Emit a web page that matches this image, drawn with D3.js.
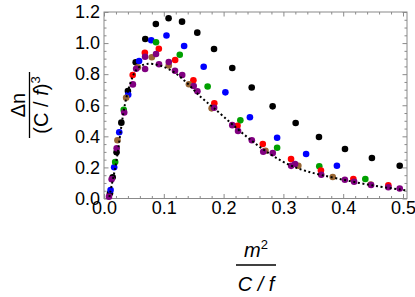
<!DOCTYPE html>
<html>
<head>
<meta charset="utf-8">
<script src="https://cdn.jsdelivr.net/npm/d3@7"></script>
<style>
  body { margin: 0; background: #fff; }
  svg { display: block; font-family: "Liberation Sans", Arial, sans-serif; }
</style>
</head>
<body>
<svg width="415" height="297"></svg>
<script>
// values, [x, y]
const blackPts = [
  [0.010, 0.033], [0.0145, 0.136], [0.021, 0.298], [0.029, 0.488], [0.040, 0.692],
  [0.053, 0.876], [0.069, 1.026], [0.0867, 1.123], [0.108, 1.16], [0.1305, 1.138],
  [0.156, 1.067], [0.184, 0.962], [0.2145, 0.840], [0.247, 0.714], [0.282, 0.593],
  [0.3205, 0.486], [0.3595, 0.396], [0.403, 0.3185], [0.448, 0.261], [0.4945, 0.211]
];
const bluePts = [
  [0.011, 0.055], [0.017, 0.201], [0.0255, 0.426], [0.0405, 0.667], [0.0587, 0.885],
  [0.079, 1.018], [0.1045, 1.049], [0.134, 0.981], [0.1667, 0.848], [0.203, 0.683],
  [0.244, 0.523], [0.2895, 0.391], [0.338, 0.286], [0.3895, 0.211]
];
const greenPts = [
  [0.0187, 0.235], [0.033, 0.570], [0.087, 1.005], [0.1267, 0.925], [0.1733, 0.721],
  [0.228, 0.503], [0.2895, 0.327], [0.36, 0.207], [0.437, 0.125]
];
const redPts = [
  [0.048, 0.795], [0.0683, 0.938], [0.0917, 0.964], [0.119, 0.891], [0.1495, 0.761],
  [0.1845, 0.613], [0.2233, 0.468], [0.2655, 0.351], [0.3128, 0.254], [0.3628, 0.180],
  [0.417, 0.125], [0.4755, 0.085]
];
const brownPts = [
  [0.0225, 0.375], [0.037, 0.648], [0.0567, 0.844], [0.080, 0.909], [0.1083, 0.856],
  [0.142, 0.735], [0.18, 0.580], [0.27, 0.307], [0.325, 0.211], [0.3825, 0.138],
  [0.446, 0.090]
];
const purplePts = [
  [0.0083, 0.012], [0.0128, 0.124], [0.0212, 0.323], [0.0338, 0.553], [0.0483, 0.734],
  [0.0538, 0.835], [0.0687, 0.833], [0.0687, 0.912], [0.087, 0.930], [0.092, 0.864],
  [0.1083, 0.878], [0.1187, 0.822], [0.1308, 0.795], [0.15, 0.724], [0.1562, 0.690],
  [0.1842, 0.584], [0.2145, 0.472], [0.2242, 0.434], [0.2472, 0.375], [0.2663, 0.301],
  [0.2822, 0.292], [0.313, 0.210], [0.3195, 0.222], [0.3633, 0.153], [0.4028, 0.121],
  [0.4183, 0.108], [0.4467, 0.087], [0.4755, 0.072], [0.4945, 0.064]
];
// dotted reference curve
const curvePts = [
  [0.009, 0.01], [0.0117, 0.066], [0.0183, 0.183], [0.0238, 0.312], [0.0295, 0.484],
  [0.035, 0.613], [0.0405, 0.698], [0.0488, 0.806], [0.06, 0.859], [0.08, 0.874],
  [0.11, 0.838], [0.138, 0.752], [0.16, 0.655], [0.182, 0.59], [0.2155, 0.473],
  [0.2545, 0.344], [0.2988, 0.230], [0.338, 0.172], [0.388, 0.130], [0.449, 0.082],
  [0.5045, 0.053]
];

const xMajor = [0, 0.1, 0.2, 0.3, 0.4, 0.5];
const yMajor = [0, 0.2, 0.4, 0.6, 0.8, 1.0, 1.2];
const xMinor = d3.range(0, 0.505, 0.02).filter(v => Math.abs(v * 10 - Math.round(v * 10)) > 1e-6);
const yMinor = d3.range(0, 1.2001, 0.05).filter(v => Math.abs(v * 5 - Math.round(v * 5)) > 1e-6);

const series = [
  { pts: blackPts, color: '#000000' },
  { pts: bluePts, color: '#0000ff' },
  { pts: greenPts, color: '#00a000' },
  { pts: redPts, color: '#ff0000' },
  { pts: brownPts, color: '#996633' },
  { pts: purplePts, color: '#800080' }
];

const svg = d3.select('svg');
const xMax = 0.5067;
const x = d3.scaleLinear().domain([0, xMax]).range([104, 407]);
const y = d3.scaleLinear().domain([0, 1.2]).range([198.5, 12]);
const frameColor = '#8a8a8a';
const fontSize = 18;
const labelSize = 20;

function styleAxis(g) {
  g.select('.domain').remove();
  g.selectAll('.tick line').attr('stroke', frameColor);
  g.attr('font-size', fontSize).attr('font-family', null);
  g.selectAll('.tick text').attr('fill', '#000');
}

// frame
svg.append('rect')
  .attr('x', x(0)).attr('y', y(1.2))
  .attr('width', x(xMax) - x(0)).attr('height', y(0) - y(1.2))
  .attr('fill', 'none').attr('stroke', frameColor).attr('stroke-width', 1);

const fmt = d3.format('.1f');

svg.append('g').attr('transform', `translate(0,${y(0)})`)
  .call(d3.axisBottom(x).tickValues(xMajor).tickSize(-4.5).tickPadding(2.5).tickFormat(fmt))
  .call(styleAxis);
svg.append('g').attr('transform', `translate(0,${y(0)})`)
  .call(d3.axisBottom(x).tickValues(xMinor).tickSize(-2.5).tickFormat(''))
  .call(styleAxis);
svg.append('g').attr('transform', `translate(0,${y(1.2)})`)
  .call(d3.axisTop(x).tickValues(xMajor).tickSize(-4.5).tickFormat(''))
  .call(styleAxis);
svg.append('g').attr('transform', `translate(0,${y(1.2)})`)
  .call(d3.axisTop(x).tickValues(xMinor).tickSize(-2.5).tickFormat(''))
  .call(styleAxis);

svg.append('g').attr('transform', `translate(${x(0)},0)`)
  .call(d3.axisLeft(y).tickValues(yMajor).tickSize(-4.5).tickPadding(4).tickFormat(fmt))
  .call(styleAxis);
svg.append('g').attr('transform', `translate(${x(0)},0)`)
  .call(d3.axisLeft(y).tickValues(yMinor).tickSize(-2.5).tickFormat(''))
  .call(styleAxis);
svg.append('g').attr('transform', `translate(${x(xMax)},0)`)
  .call(d3.axisRight(y).tickValues(yMajor).tickSize(-4.5).tickFormat(''))
  .call(styleAxis);
svg.append('g').attr('transform', `translate(${x(xMax)},0)`)
  .call(d3.axisRight(y).tickValues(yMinor).tickSize(-2.5).tickFormat(''))
  .call(styleAxis);

// points
series.forEach(s => {
  svg.append('g')
    .selectAll('circle')
    .data(s.pts)
    .enter()
    .append('circle')
    .attr('cx', d => x(d[0]))
    .attr('cy', d => y(d[1]))
    .attr('r', 3.3)
    .attr('fill', s.color);
});

// dotted curve
svg.append('path')
  .datum(curvePts)
  .attr('d', d3.line().x(d => x(d[0])).y(d => y(d[1])).curve(d3.curveBasis))
  .attr('fill', 'none')
  .attr('stroke', '#000')
  .attr('stroke-width', 2)
  .attr('stroke-dasharray', '2,2.6');

// y label: fraction, rotated
const yl = svg.append('g').attr('font-size', labelSize).attr('fill', '#000');
yl.append('text')
  .attr('transform', 'translate(25,105) rotate(-90)')
  .attr('text-anchor', 'middle')
  .text('Δn');
yl.append('line')
  .attr('x1', 29.5).attr('x2', 29.5).attr('y1', 72).attr('y2', 138)
  .attr('stroke', '#000').attr('stroke-width', 1.3);
const den = yl.append('text')
  .attr('transform', 'translate(48,105) rotate(-90)')
  .attr('text-anchor', 'middle');
den.append('tspan').text('(C / ');
den.append('tspan').attr('font-style', 'italic').text('f');
den.append('tspan').text(')');
den.append('tspan').attr('font-size', 13).attr('dy', -8).text('3');

// x label: fraction
const xl = svg.append('g').attr('font-size', labelSize).attr('fill', '#000').attr('text-anchor', 'middle');
const num = xl.append('text').attr('x', 256).attr('y', 257);
num.append('tspan').attr('font-style', 'italic').text('m');
num.append('tspan').attr('font-size', 13).attr('dy', -8).text('2');
xl.append('line')
  .attr('x1', 236).attr('x2', 276).attr('y1', 265).attr('y2', 265)
  .attr('stroke', '#000').attr('stroke-width', 1.3);
xl.append('text').attr('x', 256).attr('y', 291)
  .attr('font-style', 'italic')
  .text('C / f');
</script>
</body>
</html>
